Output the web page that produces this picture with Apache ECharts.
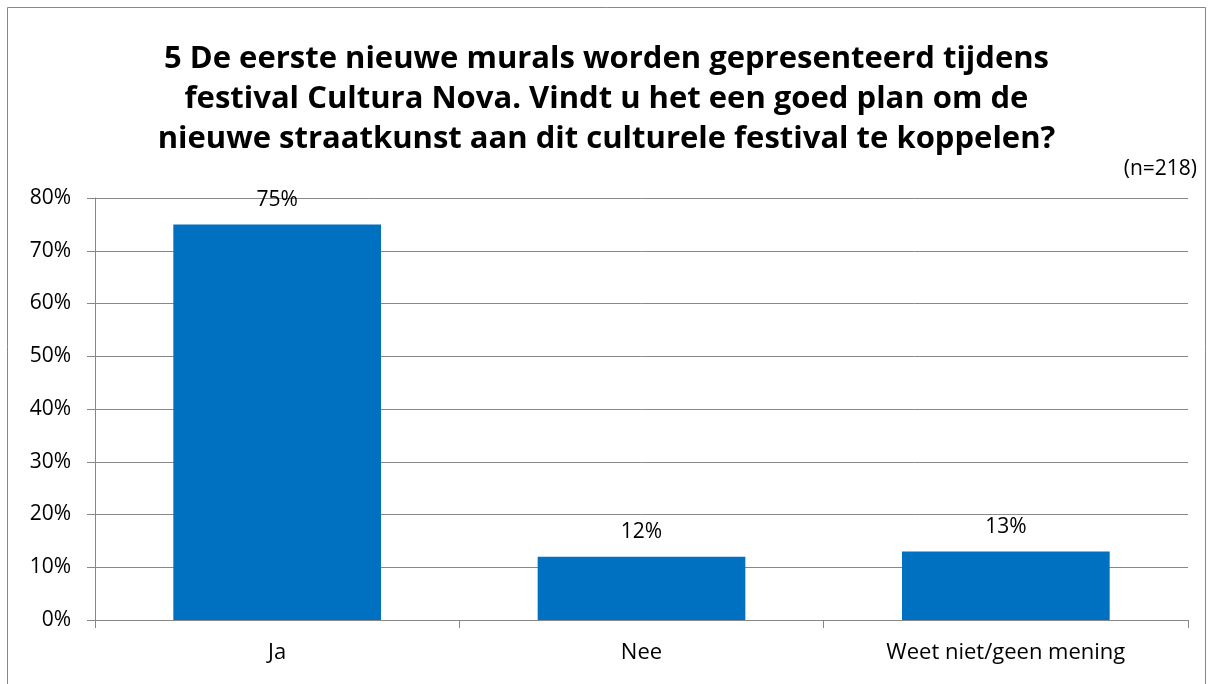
<!DOCTYPE html>
<html><head><meta charset="utf-8">
<script src="https://cdn.jsdelivr.net/npm/echarts@6/dist/echarts.min.js"></script>
<style>html,body{margin:0;padding:0;background:#fff}#c{width:1213px;height:684px}</style>
</head><body><div id="c"></div>
<script>
const categories = ['Ja', 'Nee', 'Weet niet/geen mening'];
const values = [75, 12, 13];
const tickLabels = ['0%', '10%', '20%', '30%', '40%', '50%', '60%', '70%', '80%'];
const titleText = '5 De eerste nieuwe murals worden gepresenteerd tijdens\nfestival Cultura Nova. Vindt u het een goed plan om de\nnieuwe straatkunst aan dit culturele festival te koppelen?';
const noteText = '(n=218)';

const FONT = '"Open Sans", Lato, sans-serif';
const chart = echarts.init(document.getElementById('c'));
chart.setOption({
  animation: false,
  backgroundColor: '#fff',
  title: {
    text: titleText,
    left: 'center', top: 34,
    textStyle: { fontFamily: FONT, fontWeight: 'bold', fontSize: 31, lineHeight: 40, color: '#000' }
  },
  graphic: [
    { type: 'rect', shape: { x: 7.5, y: 7.5, width: 1198, height: 690 }, style: { fill: 'none', stroke: '#888', lineWidth: 1 } },
    { type: 'text', right: 16, top: 159, style: { text: noteText, font: '21px ' + FONT, fill: '#000' } }
  ],
  grid: { left: 95, right: 25, top: 198, bottom: 64, containLabel: false },
  xAxis: {
    type: 'category', data: categories,
    axisLine: { lineStyle: { color: '#888', width: 1 } },
    axisTick: { show: true, length: 8, lineStyle: { color: '#888' } },
    axisLabel: { fontFamily: FONT, fontSize: 22, color: '#000', margin: 22 }
  },
  yAxis: {
    type: 'value', min: 0, max: 80, interval: 10,
    axisLine: { show: true, lineStyle: { color: '#888' } },
    axisTick: { show: true, length: 8, inside: false, lineStyle: { color: '#888' } },
    splitLine: { lineStyle: { color: '#888', width: 1 } },
    axisLabel: { fontFamily: FONT, fontSize: 21, color: '#000', margin: 24,
      formatter: v => tickLabels[Math.round(v / 10)] }
  },
  series: [{
    type: 'bar', data: values, barWidth: '57%',
    itemStyle: { color: '#0070C0' },
    label: { show: true, position: 'top', distance: 14, formatter: '{c}%',
      fontFamily: FONT, fontSize: 21, color: '#000' }
  }]
});
</script></body></html>
